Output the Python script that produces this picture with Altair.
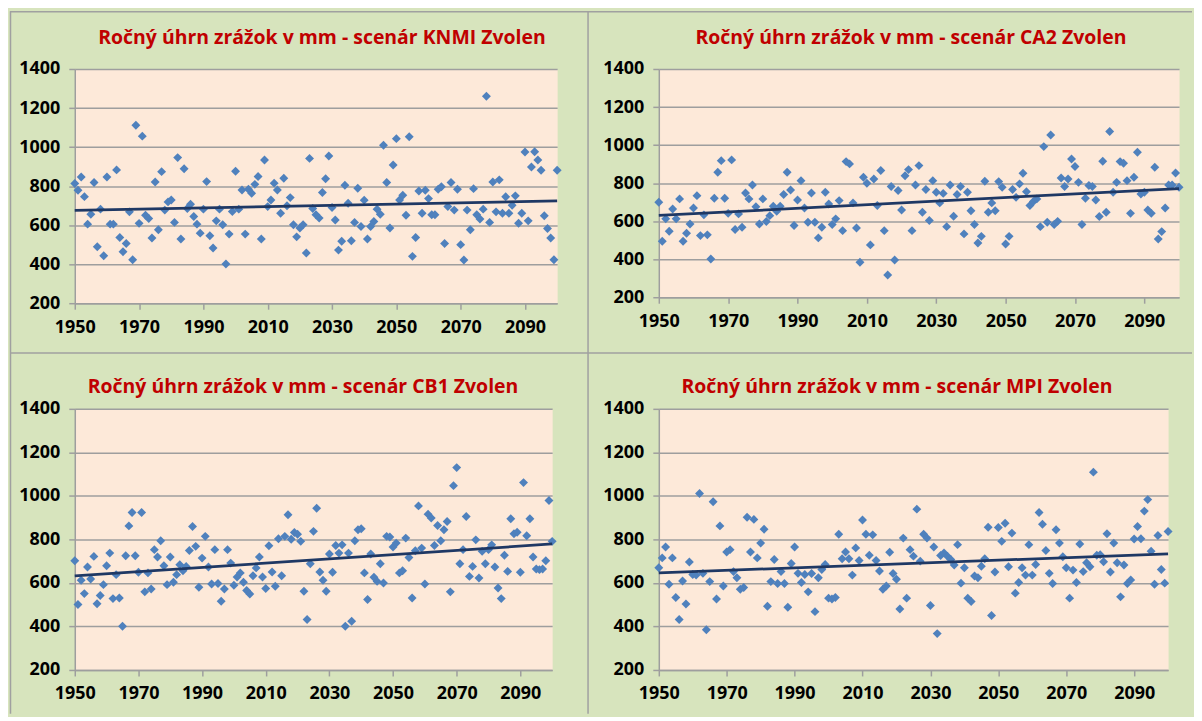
import altair as alt
import pandas as pd

years = list(range(1950, 2101))

knmi = [
    813, 779, 847, 746, 605, 656, 818, 489, 682, 443,
    847, 605, 605, 883, 537, 464, 506, 668, 423, 1112,
    609, 1056, 651, 634, 534, 821, 576, 874, 677, 719,
    729, 614, 946, 529, 889, 685, 707, 644, 605, 559,
    682, 823, 546, 483, 622, 682, 602, 401, 554, 670,
    876, 682, 780, 554, 784, 763, 809, 849, 529, 934,
    695, 729, 815, 780, 661, 840, 699, 741, 602, 540,
    585, 602, 457, 942, 685,
    653, 636, 767, 838, 954, 690, 626, 472, 517, 804,
    712, 520, 614, 789, 593, 728, 529, 593, 619, 682,
    656, 1009, 818, 585, 908, 1043, 729, 753, 651, 1053,
    440, 537, 775, 661, 779, 736, 653, 653, 784, 797,
    506, 695, 818, 677, 784, 500, 421, 677, 576, 787,
    653, 631, 682, 1260, 614, 821, 668, 832, 661, 745,
    661, 702, 750, 610, 661, 975, 622, 898, 976, 934,
    881, 648, 583, 534, 423, 881,
]

ca2 = [
    699, 494, 612, 547, 664, 612, 717, 494, 536, 585,
    669, 734, 524, 633, 528, 401, 720, 857, 918, 720,
    641, 922, 556, 638, 568, 748, 717, 790, 676, 585,
    717, 598, 629, 678, 652, 678, 740, 857, 764, 577,
    711, 813, 669, 594, 748, 594, 512, 568, 752, 690,
    582, 612, 708, 550, 913, 901, 696, 564, 384, 831,
    799, 475, 822, 682, 866, 550, 317, 782, 396, 761,
    659, 839, 871, 550, 790, 892,
    647, 766, 603, 813, 752, 696, 746, 571, 790, 626,
    740, 782, 533, 752, 655, 582, 485, 520, 810, 647,
    696, 655, 808, 778, 480, 520, 766, 725, 796, 852,
    755, 682, 703, 717, 571, 992, 594, 1053, 582, 599,
    827, 782, 822, 927, 887, 804, 582, 720, 787, 782,
    711, 624, 915, 647, 1071, 752, 804, 913, 904, 813,
    641, 831, 962, 743, 752, 659, 641, 883, 506, 545,
    669, 790, 790, 853, 778,
]

cb1 = [
    702, 501, 612, 551, 673, 618, 722, 504, 542, 592,
    679, 737, 528, 638, 531, 401, 725, 862, 924, 725,
    649, 924, 559, 646, 572, 753, 719, 794, 679, 592,
    719, 603, 638, 684, 656, 676, 749, 859, 768, 580,
    714, 814, 673, 595, 753, 597, 516, 572, 753, 691,
    589, 627, 646, 603, 565, 549, 633, 669, 719, 627,
    574, 771, 650, 585, 803, 633, 814, 913, 801, 832,
    824, 791, 562, 432, 688, 837, 943, 650,
    612, 562, 733, 649, 772, 737, 775, 401, 737, 424,
    794, 844, 849, 646, 524, 733, 626, 607, 688, 600,
    814, 811, 765, 783, 646, 656, 806, 717, 531, 748,
    954, 760, 595, 916, 898, 772, 864, 794, 844, 882,
    559, 1047, 1130, 688, 753, 905, 630, 676, 798, 623,
    745, 688, 753, 775, 673, 577, 528, 727, 653, 895,
    826, 833, 649, 1061, 817, 895, 719, 664, 661, 664,
    702, 979, 791,
]

mpi = [
    670, 715, 765, 594, 715, 533, 432, 609, 503, 696,
    639, 636, 1011, 644, 385, 606, 973, 526, 862, 586,
    742, 753, 652, 624, 571, 579, 902, 742, 892, 715,
    783, 847, 493, 606, 708, 597, 652, 597, 488, 689,
    765, 644, 602, 639, 559, 643, 468, 624, 662, 685,
    530, 526, 533, 824, 711, 742, 711, 636, 761, 703,
    889, 824, 727, 821, 703, 655, 571, 586, 741, 643,
    617, 480, 806, 530, 753, 723, 939, 700,
    824, 806, 496, 765, 367, 726, 738, 723, 708, 682,
    776, 599, 670, 530, 515, 632, 624, 677, 711, 856,
    450, 650, 855, 791, 874, 674, 829, 553, 602, 670,
    636, 776, 636, 685, 924, 870, 749, 644, 597, 844,
    783, 720, 670, 530, 659, 602, 779, 652, 693, 674,
    1109, 727, 730, 697, 826, 650, 783, 693, 536, 682,
    597, 614, 802, 859, 803, 930, 983, 746, 594, 818,
    662, 599, 836,
]

scenarios = ["KNMI", "CA2", "CB1", "MPI"]
title_template = "Ročný úhrn zrážok v mm - scenár {} Zvolen"
x_tick_values = [1950, 1970, 1990, 2010, 2030, 2050, 2070, 2090]
y_tick_values = [200, 400, 600, 800, 1000, 1200, 1400]

GREEN = "#d7e4bd"
PEACH = "#fde9d9"
GRAY = "#9e9e9e"
SEP = "#a0a0a0"
BLUE = "#4f81bd"
NAVY = "#1f3864"
RED = "#c00000"
FONT = "Open Sans"

one_row = pd.DataFrame({"k": [0]})


def hrule(y, x1, x2):
    return alt.Chart(one_row).mark_rule(color=SEP, strokeWidth=1.5).encode(
        x=alt.value(x1), x2=alt.value(x2), y=alt.value(y))


def vrule(x, y1, y2):
    return alt.Chart(one_row).mark_rule(color=SEP, strokeWidth=1.5).encode(
        x=alt.value(x), y=alt.value(y1), y2=alt.value(y2))


def title_mark(text, tx, ty):
    return alt.Chart(one_row).mark_text(
        text=text, font=FONT, fontSize=19.5, fontWeight="bold", color=RED,
        align="center", baseline="middle",
    ).encode(x=alt.value(tx), y=alt.value(ty))


def panel(values, scenario, width, height, tx, ty, extra=()):
    df = pd.DataFrame({"year": years, "value": values})
    xenc = alt.X(
        "year:Q",
        scale=alt.Scale(domain=[1950, 2100], nice=False, zero=False),
        axis=alt.Axis(values=x_tick_values, format="d", title=None, grid=False,
                      tickCount=20, labelFlush=False, labelOverlap=False,
                      labelPadding=9, labelAngle=0),
    )
    yenc = alt.Y(
        "value:Q",
        scale=alt.Scale(domain=[200, 1400], nice=False, zero=False),
        axis=alt.Axis(values=y_tick_values, format="d", title=None, grid=True,
                      gridColor=GRAY, gridWidth=1.5, gridOpacity=1,
                      tickCount=20, labelOverlap=False, labelPadding=9),
    )
    pts = alt.Chart(df).mark_point(
        shape="diamond", filled=True, size=80, color=BLUE, opacity=1
    ).encode(x=xenc, y=yenc)
    trend = alt.Chart(df).transform_regression(
        "year", "value", extent=[1950, 2100]
    ).mark_line(color=NAVY, strokeWidth=2.75).encode(x="year:Q", y="value:Q")
    ttl = title_mark(title_template.format(scenario), tx, ty)
    return alt.layer(pts, trend, ttl, *extra).properties(width=width, height=height)


borders = [
    hrule(-57.5, -65, 1121),
    vrule(-64.5, -58, 647),
    vrule(515, -58, 647),
    hrule(285, -65, 1121),
]

tl = panel(knmi, scenarios[0], 484, 235, 248, -31, borders)
tr = panel(ca2, scenarios[1], 522, 229, 253, -31)
bl = panel(cb1, scenarios[2], 479, 262, 229, -22)
br = panel(mpi, scenarios[3], 511, 262, 239, -22)

chart = alt.concat(
    tl, tr, bl, br,
    columns=2,
    spacing={"row": 106, "column": 102},
    bounds="flush",
    align="each",
).properties(
    padding=0,
    background=GREEN,
).configure_view(
    fill=PEACH,
    stroke="transparent",
).configure_axis(
    labelFont=FONT,
    labelFontSize=18,
    labelFontWeight="bold",
    labelColor="#000000",
    domainColor=GRAY,
    domainWidth=1.5,
    tickColor=GRAY,
    tickWidth=1.5,
    tickSize=6,
    gridColor=GRAY,
    gridWidth=1.5,
)

chart.save("out.html", embed_options={"renderer": "svg", "actions": False})
